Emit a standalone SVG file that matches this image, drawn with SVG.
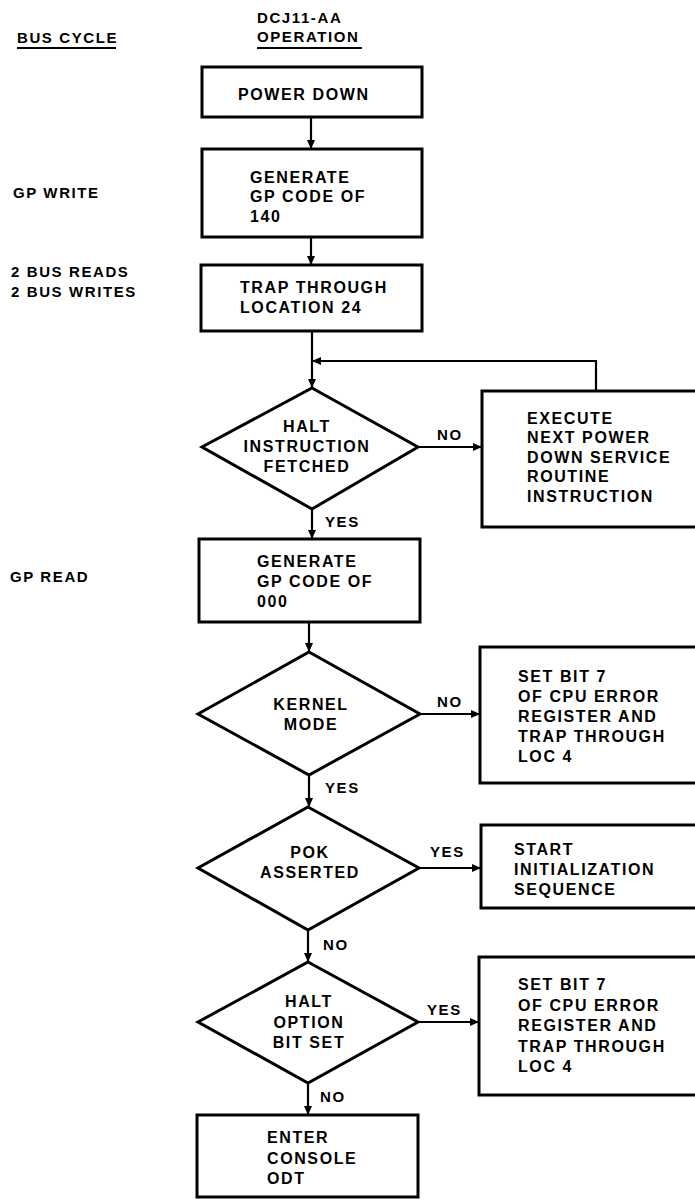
<svg xmlns="http://www.w3.org/2000/svg" width="695" height="1199" viewBox="0 0 695 1199">
<defs>
<marker id="ah" markerWidth="9" markerHeight="8" refX="8" refY="4" orient="auto" markerUnits="userSpaceOnUse">
<path d="M0,0 L9,4 L0,8 z" fill="#000"/>
</marker>
<style>
text{font-family:"Liberation Sans",Arial,sans-serif;font-weight:bold;font-size:15px;letter-spacing:1.6px;fill:#000}
g.node text{font-size:16px;letter-spacing:1.6px}
.box{fill:#fff;stroke:#000;stroke-width:3}
.c{fill:none;stroke:#000;stroke-width:2.2}
.ul{stroke:#000;stroke-width:2}
.m{text-anchor:middle}
</style>
</defs>
<rect width="695" height="1199" fill="#fff"/>
<g id="headers">
<text x="17" y="43">BUS CYCLE</text>
<line class="ul" x1="17" y1="48" x2="116" y2="48"/>
<text x="257" y="23">DCJ11-AA</text>
<text x="257" y="42">OPERATION</text>
<line class="ul" x1="257" y1="48" x2="362" y2="48"/>
</g>
<g id="buscycles">
<text x="13" y="198">GP WRITE</text>
<text x="11" y="277">2 BUS READS</text>
<text x="11" y="297">2 BUS WRITES</text>
<text x="10" y="582">GP READ</text>
</g>
<g id="connectors">
<line class="c" x1="311" y1="117" x2="311" y2="148" marker-end="url(#ah)"/>
<line class="c" x1="311" y1="237" x2="311" y2="264" marker-end="url(#ah)"/>
<line class="c" x1="312" y1="331" x2="312" y2="387" marker-end="url(#ah)"/>
<polyline class="c" points="596,391 596,361 313,361" marker-end="url(#ah)"/>
<line class="c" x1="418" y1="447" x2="481" y2="447" marker-end="url(#ah)"/>
<line class="c" x1="312" y1="509" x2="312" y2="538" marker-end="url(#ah)"/>
<line class="c" x1="309" y1="622" x2="309" y2="651" marker-end="url(#ah)"/>
<line class="c" x1="420" y1="714" x2="479" y2="714" marker-end="url(#ah)"/>
<line class="c" x1="309" y1="775" x2="309" y2="806" marker-end="url(#ah)"/>
<line class="c" x1="419" y1="868" x2="480" y2="868" marker-end="url(#ah)"/>
<line class="c" x1="308" y1="930" x2="308" y2="961" marker-end="url(#ah)"/>
<line class="c" x1="418" y1="1022" x2="478" y2="1022" marker-end="url(#ah)"/>
<line class="c" x1="308" y1="1083" x2="308" y2="1114" marker-end="url(#ah)"/>
<text x="437" y="440">NO</text>
<text x="325" y="527">YES</text>
<text x="437" y="707">NO</text>
<text x="325" y="793">YES</text>
<text x="430" y="857">YES</text>
<text x="323" y="950">NO</text>
<text x="427" y="1015">YES</text>
<text x="320" y="1102">NO</text>
</g>
<g id="powerdown" class="node">
<rect class="box" x="202" y="67" width="220" height="50"/>
<text x="238" y="100">POWER DOWN</text>
</g>
<g id="gen140" class="node">
<rect class="box" x="202" y="149" width="220" height="88"/>
<text x="250" y="183">GENERATE</text>
<text x="250" y="202">GP CODE OF</text>
<text x="250" y="222">140</text>
</g>
<g id="trap24" class="node">
<rect class="box" x="201" y="265" width="221" height="66"/>
<text x="240" y="293">TRAP THROUGH</text>
<text x="240" y="313">LOCATION 24</text>
</g>
<g id="haltfetched" class="node">
<polygon class="box" points="312,388 418,447 312,509 202,447"/>
<text class="m" x="307" y="432">HALT</text>
<text class="m" x="307" y="452">INSTRUCTION</text>
<text class="m" x="307" y="472">FETCHED</text>
</g>
<g id="execute" class="node">
<rect class="box" x="482" y="391" width="220" height="136"/>
<text x="527" y="424">EXECUTE</text>
<text x="527" y="443">NEXT POWER</text>
<text x="527" y="463">DOWN SERVICE</text>
<text x="527" y="482">ROUTINE</text>
<text x="527" y="502">INSTRUCTION</text>
</g>
<g id="gen000" class="node">
<rect class="box" x="199" y="539" width="221" height="83"/>
<text x="257" y="567">GENERATE</text>
<text x="257" y="587">GP CODE OF</text>
<text x="257" y="607">000</text>
</g>
<g id="kernel" class="node">
<polygon class="box" points="309,652 420,714 309,775 198,714"/>
<text class="m" x="311" y="710">KERNEL</text>
<text class="m" x="311" y="730">MODE</text>
</g>
<g id="setbit1" class="node">
<rect class="box" x="480" y="647" width="222" height="136"/>
<text x="518" y="682">SET BIT 7</text>
<text x="518" y="702">OF CPU ERROR</text>
<text x="518" y="722">REGISTER AND</text>
<text x="518" y="742">TRAP THROUGH</text>
<text x="518" y="762">LOC 4</text>
</g>
<g id="pok" class="node">
<polygon class="box" points="308,807 419,868 308,930 198,868"/>
<text class="m" x="310" y="858">POK</text>
<text class="m" x="310" y="878">ASSERTED</text>
</g>
<g id="startinit" class="node">
<rect class="box" x="481" y="825" width="221" height="83"/>
<text x="514" y="855">START</text>
<text x="514" y="875">INITIALIZATION</text>
<text x="514" y="895">SEQUENCE</text>
</g>
<g id="haltoption" class="node">
<polygon class="box" points="308,962 418,1022 308,1083 198,1022"/>
<text class="m" x="309" y="1007">HALT</text>
<text class="m" x="309" y="1028">OPTION</text>
<text class="m" x="309" y="1048">BIT SET</text>
</g>
<g id="setbit2" class="node">
<rect class="box" x="479" y="957" width="223" height="138"/>
<text x="518" y="990">SET BIT 7</text>
<text x="518" y="1011">OF CPU ERROR</text>
<text x="518" y="1031">REGISTER AND</text>
<text x="518" y="1052">TRAP THROUGH</text>
<text x="518" y="1072">LOC 4</text>
</g>
<g id="enterodt" class="node">
<rect class="box" x="197" y="1115" width="221" height="82"/>
<text x="267" y="1143">ENTER</text>
<text x="267" y="1164">CONSOLE</text>
<text x="267" y="1184">ODT</text>
</g>
</svg>
